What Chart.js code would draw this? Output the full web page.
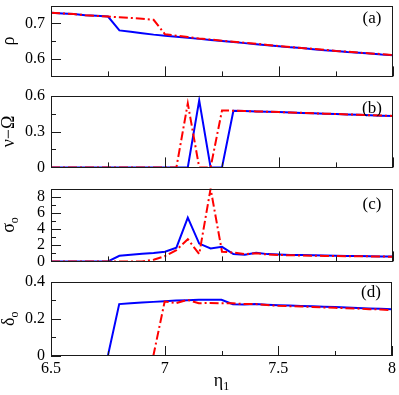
<!DOCTYPE html>
<html>
<head>
<meta charset="utf-8">
<script src="https://cdn.jsdelivr.net/npm/chart.js@4.4.0/dist/chart.umd.min.js"></script>
<style>
  html, body { margin: 0; padding: 0; background: #fff; overflow: hidden; }
  #wrap { position: relative; width: 399px; height: 395px; overflow: hidden; }
  #wrap canvas { position: absolute; left: 0; }
</style>
</head>
<body>
<div id="wrap">
  <canvas id="panelA" width="399" height="102" style="top:-10px"></canvas>
  <canvas id="panelB" width="399" height="103" style="top:80px"></canvas>
  <canvas id="panelC" width="399" height="104" style="top:173px"></canvas>
  <canvas id="panelD" width="399" height="129" style="top:266px"></canvas>
</div>
<script>
// eta_1 grid shared by every panel
const eta = [6.5, 6.55, 6.6, 6.65, 6.7, 6.75, 6.8, 6.85, 6.9, 6.95, 7, 7.05, 7.1, 7.15, 7.2, 7.25,
  7.3, 7.35, 7.4, 7.45, 7.5, 7.55, 7.6, 7.65, 7.7, 7.75, 7.8, 7.85, 7.9, 7.95, 8]

// (a) rho
const rhoBlue = [0.730, 0.728, 0.726, 0.723, 0.721, 0.719, 0.680, 0.676, 0.672, 0.668, 0.665,
  0.662, 0.659, 0.656, 0.653, 0.650, 0.647, 0.644, 0.641, 0.638, 0.635,
  0.632, 0.630, 0.627, 0.624, 0.622, 0.619, 0.617, 0.615, 0.612, 0.610]
const rhoRed = [0.730, 0.728, 0.726, 0.723, 0.721, 0.719, 0.717, 0.715, 0.713, 0.710, 0.669,
  0.665, 0.661, 0.657, 0.654, 0.651, 0.648, 0.645, 0.642, 0.639, 0.636,
  0.633, 0.630, 0.628, 0.625, 0.622, 0.620, 0.617, 0.615, 0.613, 0.610]

// (b) nu - Omega
const nuBlue = [0, 0, 0, 0, 0, 0, 0, 0, 0, 0, 0, 0, 0, 0.56, 0, 0, 0.474,
  0.471, 0.468, 0.465, 0.462, 0.459, 0.455, 0.452, 0.449, 0.446, 0.442, 0.439, 0.436, 0.432, 0.429]
const nuRed = [0, 0, 0, 0, 0, 0, 0, 0, 0, 0, 0, 0, 0.535, 0, 0, 0.476, 0.474,
  0.471, 0.468, 0.465, 0.462, 0.459, 0.456, 0.452, 0.449, 0.446, 0.443, 0.439, 0.436, 0.433, 0.430]

// (c) sigma_o
const sigmaBlue = [0, 0, 0, 0, 0, 0, 0.7, 0.82, 0.95, 1.05, 1.2, 1.7, 5.4, 2.2, 1.6, 1.8,
  0.9, 0.83, 1.07, 0.9, 0.85, 0.8, 0.78, 0.75, 0.72, 0.7, 0.68, 0.66, 0.64, 0.62, 0.6]
const sigmaRed = [0, 0, 0, 0, 0, 0, 0, 0, 0, 0.2, 0.66, 1.4, 2.75, 0.9, 9.0, 1.2,
  1.1, 0.9, 1.0, 0.85, 0.8, 0.76, 0.73, 0.7, 0.68, 0.66, 0.65, 0.63, 0.62, 0.6, 0.58]

// (d) delta_o
const deltaBlue = [0, 0, 0, 0, 0, 0, 0.279, 0.283, 0.287, 0.291, 0.295, 0.298, 0.300, 0.302, 0.302, 0.302,
  0.278, 0.277, 0.279, 0.276, 0.273, 0.271, 0.269, 0.267, 0.265, 0.263, 0.261, 0.258, 0.256, 0.254, 0.251]
const deltaRed = [0, 0, 0, 0, 0, 0, 0, 0, 0, 0, 0.293, 0.284, 0.302, 0.284, 0.285, 0.283,
  0.284, 0.279, 0.279, 0.274, 0.270, 0.268, 0.266, 0.264, 0.261, 0.259, 0.257, 0.255, 0.252, 0.250, 0.247]

// tick values
const xMajor = [6.5, 7, 7.5, 8]
const xMinor = [6.75, 7.25, 7.75]

const SERIF = '"Liberation Serif", "Times New Roman", Times, serif'

function drawLabel(ctx, parts, cx, cy, rotate) {
  ctx.save()
  ctx.translate(cx, cy)
  if (rotate) ctx.rotate(-Math.PI / 2)
  ctx.textAlign = "left"
  ctx.textBaseline = "alphabetic"
  ctx.fillStyle = "#000"
  const fontOf = (p) => (p.sub ? "12px " : "18px ") + SERIF
  let w = 0
  parts.forEach((p) => { ctx.font = fontOf(p); w += ctx.measureText(p.t).width })
  let x = -w / 2
  parts.forEach((p) => {
    ctx.font = fontOf(p)
    ctx.fillText(p.t, x, p.sub ? 4 : 0)
    x += ctx.measureText(p.t).width
  })
  ctx.restore()
}

// frame, inward ticks, panel tag and axis titles
const framePlugin = {
  id: "frame",
  afterDraw(chart, args, o) {
    const { ctx, chartArea: a, scales } = chart
    ctx.save()
    ctx.strokeStyle = "#1a1a1a"
    ctx.lineWidth = 1
    ctx.beginPath()
    scales.x.ticks.forEach((t) => {
      const px = Math.round(scales.x.getPixelForValue(t.value)) + 0.5
      const len = xMajor.includes(t.value) ? 10 : 5
      ctx.moveTo(px, a.bottom)
      ctx.lineTo(px, a.bottom - len)
    })
    scales.y.ticks.forEach((t) => {
      const py = Math.round(scales.y.getPixelForValue(t.value)) + 0.5
      const len = o.yMajor.includes(t.value) ? 10 : 5
      ctx.moveTo(a.left, py)
      ctx.lineTo(a.left + len, py)
    })
    ctx.stroke()
    ctx.strokeRect(Math.round(a.left) + 0.5, Math.round(a.top) + 0.5,
      Math.round(a.right - a.left) - 1, Math.round(a.bottom - a.top) - 1)

    ctx.fillStyle = "#000"
    ctx.font = "17px " + SERIF
    ctx.textAlign = "center"
    ctx.textBaseline = "middle"
    ctx.fillText(o.tag, a.right - 21, a.top + o.tagDy)

    drawLabel(ctx, o.ytitle, 14, (a.top + a.bottom) / 2 + (o.ytitleDy || 0), true)
    if (o.xtitle) drawLabel(ctx, o.xtitle, (a.left + a.right) / 2, a.bottom + 30, false)
    ctx.restore()
  },
}

function makePanel(id, p) {
  const ticksFont = { family: SERIF, size: 16 }
  return new Chart(document.getElementById(id), {
    type: "line",
    data: {
      datasets: [
        {
          data: eta.map((x, i) => ({ x, y: p.red[i] })),
          borderColor: "#ff0000",
          borderWidth: 2,
          borderDash: [9, 3, 2, 3],
          pointRadius: 0,
          tension: 0,
        },
        {
          data: eta.map((x, i) => ({ x, y: p.blue[i] })),
          borderColor: "#0000ff",
          borderWidth: 2,
          pointRadius: 0,
          tension: 0,
        },
      ],
    },
    options: {
      responsive: false,
      animation: false,
      layout: { padding: { left: 0, right: 6, top: p.padTop, bottom: p.padBottom } },
      plugins: {
        legend: { display: false },
        tooltip: { enabled: false },
        frame: { tag: p.tag, tagDy: p.tagDy, ytitle: p.ytitle, xtitle: p.xtitle, yMajor: p.yMajor },
      },
      scales: {
        x: {
          type: "linear",
          min: 6.5,
          max: 8,
          grid: { display: false, drawTicks: false },
          border: { display: false },
          afterBuildTicks: (s) => { s.ticks = [...xMajor, ...xMinor].sort((m, n) => m - n).map((v) => ({ value: v })) },
          afterFit: (s) => { s.height = p.xHeight },
          ticks: {
            display: p.showX,
            autoSkip: false,
            maxRotation: 0,
            padding: 3,
            color: "#000",
            font: ticksFont,
            callback: (v) => (xMajor.includes(v) ? String(v) : ""),
          },
        },
        y: {
          min: p.yMin,
          max: p.yMax,
          grid: { display: false, drawTicks: false },
          border: { display: false },
          afterBuildTicks: (s) => { s.ticks = [...p.yMajor, ...p.yMinor].sort((m, n) => m - n).map((v) => ({ value: v })) },
          afterFit: (s) => { s.width = 51 },
          ticks: {
            autoSkip: false,
            padding: 6,
            color: "#000",
            font: ticksFont,
            callback: (v) => (p.yMajor.includes(v) ? String(v) : ""),
          },
        },
      },
    },
    plugins: [framePlugin],
  })
}

makePanel("panelA", {
  blue: rhoBlue, red: rhoRed, yMin: 0.55, yMax: 0.75, yMajor: [0.6, 0.7], yMinor: [0.55, 0.65, 0.75],
  padTop: 13, padBottom: 13, xHeight: 0, showX: false, tag: "(a)", tagDy: 13,
  ytitle: [{ t: "ρ" }],
})
makePanel("panelB", {
  blue: nuBlue, red: nuRed, yMin: 0, yMax: 0.6, yMajor: [0, 0.3, 0.6], yMinor: [0.15, 0.45],
  padTop: 14, padBottom: 12, xHeight: 0, showX: false, tag: "(b)", tagDy: 13,
  ytitle: [{ t: "ν−Ω" }],
})
makePanel("panelC", {
  blue: sigmaBlue, red: sigmaRed, yMin: 0, yMax: 9, yMajor: [0, 2, 4, 6, 8], yMinor: [1, 3, 5, 7],
  padTop: 14, padBottom: 13, xHeight: 0, showX: false, tag: "(c)", tagDy: 16,
  ytitle: [{ t: "σ" }, { t: "o", sub: true }], ytitleDy: -3,
})
makePanel("panelD", {
  blue: deltaBlue, red: deltaRed, yMin: 0, yMax: 0.4, yMajor: [0, 0.2, 0.4], yMinor: [0.1, 0.3],
  padTop: 14, padBottom: 0, xHeight: 39, showX: true, tag: "(d)", tagDy: 11,
  ytitle: [{ t: "δ" }, { t: "o", sub: true }],
  xtitle: [{ t: "η" }, { t: "1", sub: true }],
})
</script>
</body>
</html>
